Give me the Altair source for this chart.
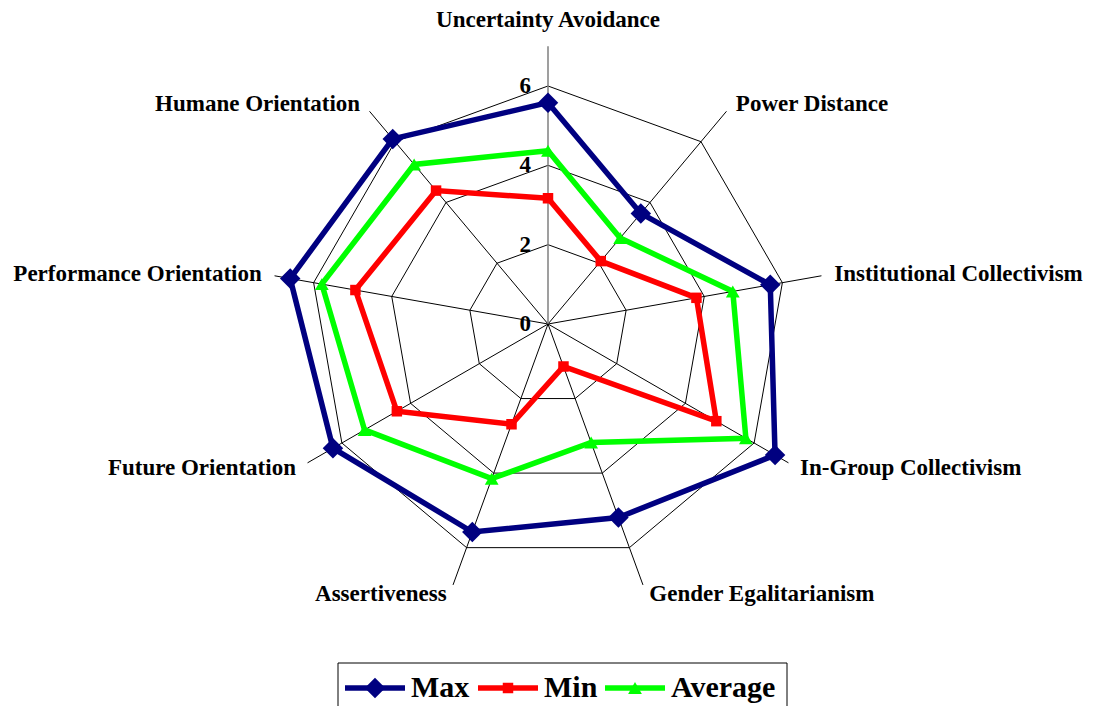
import altair as alt
import pandas as pd

# ---------------- data ----------------
categories = [
    "Uncertainty Avoidance", "Power Distance", "Institutional Collectivism",
    "In-Group Collectivism", "Gender Egalitarianism", "Assertiveness",
    "Future Orientation", "Performance Orientation", "Humane Orientation",
]
max_vals = [5.58, 3.64, 5.69, 6.61, 5.19, 5.58, 6.26, 6.60, 6.09]
min_vals = [3.17, 2.07, 3.80, 4.90, 1.14, 2.69, 4.40, 4.93, 4.39]
avg_vals = [4.37, 2.83, 4.73, 5.76, 3.18, 4.15, 5.34, 5.79, 5.25]
series_names = ["Max", "Min", "Average"]
tick_values = [0, 2, 4, 6]
ring_levels = [2, 4, 6]

# ---------------- styles / layout ----------------
series_colors = ["#000080", "#FF0000", "#00FF00"]
series_shapes = ["diamond", "square", "triangle-up"]
series_sizes = [420, 110, 190]
FONT = "Liberation Serif"
W, H = 1099, 706
CX, CY = 548, 324
K = 238 / 6.0          # pixels per unit
AXIS_MAX = 7.0
LABEL_R = 7.25
N = len(categories)

xscale = alt.Scale(domain=[-CX / K, (W - CX) / K], nice=False, zero=False)
yscale = alt.Scale(domain=[-(H - CY) / K, CY / K], nice=False, zero=False)
cscale = alt.Scale(domain=series_names, range=series_colors)
shscale = alt.Scale(domain=series_names, range=series_shapes)
szscale = alt.Scale(type="ordinal", domain=series_names, range=series_sizes)

ANG = f"datum.idx * 2 * PI / {N}"

rows = []
for name, vals in zip(series_names, [max_vals, min_vals, avg_vals]):
    for i in range(N + 1):
        rows.append({"series": name, "idx": i, "value": vals[i % N]})
series_df = pd.DataFrame(rows)

ring_df = pd.DataFrame(
    [{"level": lv, "idx": i, "value": lv} for lv in ring_levels for i in range(N + 1)]
)
cat_df = pd.DataFrame({"idx": list(range(N)), "category": categories})
tick_df = pd.DataFrame({"tick": tick_values})


def polar(chart, rexpr):
    return chart.transform_calculate(
        ang=ANG
    ).transform_calculate(
        x=f"({rexpr}) * sin(datum.ang)", y=f"({rexpr}) * cos(datum.ang)"
    )


X = alt.X("x:Q", scale=xscale, axis=None)
Y = alt.Y("y:Q", scale=yscale, axis=None)

# rings
rings = polar(alt.Chart(ring_df), "datum.value").mark_line(
    color="black", strokeWidth=1, clip=False
).encode(x=X, y=Y, detail="level:N", order="idx:Q")

# spokes
spokes = polar(alt.Chart(cat_df).transform_filter("datum.idx > 0"), f"{AXIS_MAX}").mark_rule(
    color="black", strokeWidth=1
).encode(
    x=alt.X("zero:Q", scale=xscale, axis=None),
    y=alt.Y("zero:Q", scale=yscale, axis=None),
    x2="x:Q", y2="y:Q",
).transform_calculate(zero="0")

value_axis = polar(alt.Chart(cat_df).transform_filter("datum.idx == 0"), f"{AXIS_MAX}").mark_rule(
    color="#7f7f7f", strokeWidth=1.5
).encode(
    x=alt.X("zero:Q", scale=xscale, axis=None),
    y=alt.Y("zero:Q", scale=yscale, axis=None),
    x2="x:Q", y2="y:Q",
).transform_calculate(zero="0")

# series
lines = polar(alt.Chart(series_df), "datum.value").mark_line(
    strokeWidth=5.5, clip=False
).encode(
    x=X, y=Y,
    color=alt.Color("series:N", scale=cscale, legend=None),
    detail="series:N",
    order="idx:Q",
)

points = polar(alt.Chart(series_df).transform_filter(f"datum.idx < {N}"), "datum.value").mark_point(
    filled=True, opacity=1, clip=False, strokeWidth=0
).encode(
    x=X, y=Y,
    color=alt.Color("series:N", scale=cscale, legend=None),
    shape=alt.Shape("series:N", scale=shscale, legend=None),
    size=alt.Size("series:N", scale=szscale, legend=None),
)

# tick labels
tick_labels = alt.Chart(tick_df).mark_text(
    font=FONT, fontWeight="bold", fontSize=23, align="right", baseline="middle", dx=-17, color="black"
).encode(
    x=alt.X("zero:Q", scale=xscale, axis=None),
    y=alt.Y("tick:Q", scale=yscale, axis=None),
    text="tick:Q",
).transform_calculate(zero="0")

# category labels
LAB_SIZE = 23
lab_base = polar(alt.Chart(cat_df), f"{LABEL_R}")
lab_top = lab_base.transform_filter("datum.idx == 0").mark_text(
    font=FONT, fontWeight="bold", fontSize=LAB_SIZE, align="center", baseline="middle", dy=-16, color="black"
).encode(x=X, y=Y, text="category:N")
lab_right = lab_base.transform_filter(f"datum.idx > 0 && datum.idx <= {N // 2}").mark_text(
    font=FONT, fontWeight="bold", fontSize=LAB_SIZE, align="left", baseline="middle", dx=3, color="black"
).encode(x=X, y=Y, text="category:N")
lab_left = lab_base.transform_filter(f"datum.idx > {N // 2}").mark_text(
    font=FONT, fontWeight="bold", fontSize=LAB_SIZE, align="right", baseline="middle", dx=-3, color="black"
).encode(x=X, y=Y, text="category:N")

# legend (pixel layout)
legend_df = pd.DataFrame({"series": series_names, "lx": [345, 478, 605]})
LY = 688
leg = alt.Chart(legend_df).transform_calculate(
    lx2="datum.lx + 60", mx="datum.lx + 30", tx="datum.lx + 66", ly=str(LY), ty=str(LY + 9)
)
legend_box = alt.Chart(pd.DataFrame({"a": [0]})).mark_rect(
    fill="white", stroke="black", strokeWidth=1
).encode(x=alt.value(338), x2=alt.value(787), y=alt.value(663), y2=alt.value(712))
legend_lines = leg.mark_rule(strokeWidth=5.5).encode(
    x=alt.X("lx:Q", scale=None, axis=None), x2="lx2:Q",
    y=alt.Y("ly:Q", scale=None, axis=None),
    color=alt.Color("series:N", scale=cscale, legend=None),
)
legend_pts = leg.mark_point(filled=True, opacity=1, strokeWidth=0).encode(
    x=alt.X("mx:Q", scale=None, axis=None),
    y=alt.Y("ly:Q", scale=None, axis=None),
    color=alt.Color("series:N", scale=cscale, legend=None),
    shape=alt.Shape("series:N", scale=shscale, legend=None),
    size=alt.Size("series:N", scale=szscale, legend=None),
)
legend_text = leg.mark_text(
    font=FONT, fontWeight="bold", fontSize=30, align="left", baseline="alphabetic", color="black"
).encode(
    x=alt.X("tx:Q", scale=None, axis=None),
    y=alt.Y("ty:Q", scale=None, axis=None),
    text="series:N",
)

chart = alt.layer(
    legend_box, rings, spokes, value_axis, lines, points, tick_labels,
    lab_top, lab_right, lab_left, legend_lines, legend_pts, legend_text,
).resolve_scale(
    x="independent", y="independent", color="independent", shape="independent", size="independent"
).properties(
    width=W, height=H, autosize=alt.AutoSizeParams(type="none"), padding=0, background="white"
).configure_view(stroke=None)

chart.save("out.html", embed_options={"renderer": "svg", "actions": False})
